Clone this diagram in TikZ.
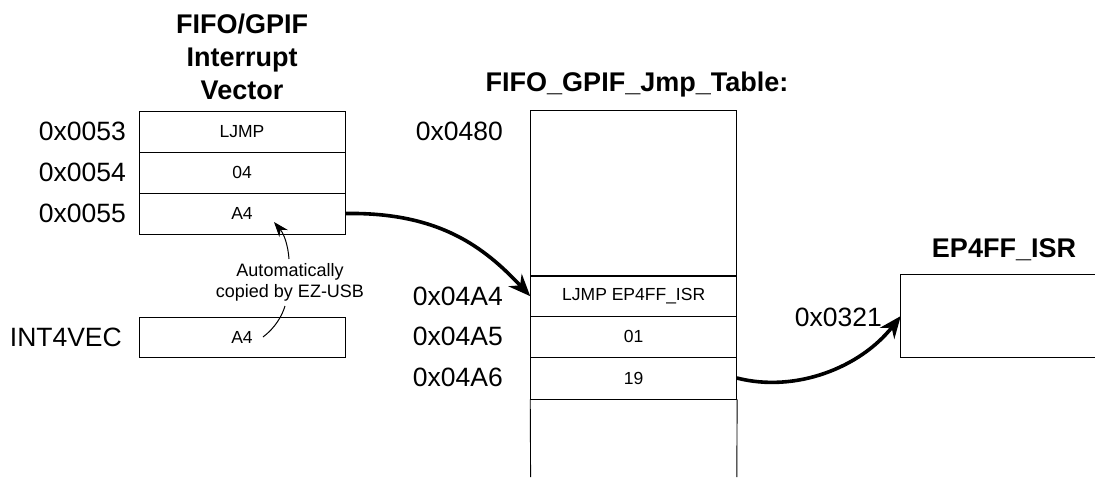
\documentclass[tikz,border=0pt]{standalone}
\usepackage{fontspec}
\setmainfont{Liberation Sans}
\usetikzlibrary{arrows.meta}
\begin{document}
\begin{tikzpicture}[x=1pt,y=-1pt,
  cell/.style={draw,line width=0.9pt,minimum width=206pt,minimum height=41pt,inner sep=0pt,font=\fontsize{17.5}{20}\selectfont},
  addr/.style={anchor=east,inner sep=0pt,font=\fontsize{26.5}{30}\selectfont},
  ttl/.style={align=center,inner sep=0pt,font=\fontsize{27}{33}\selectfont\bfseries},
  big/.style={line width=3.6pt,-{Stealth[length=22pt,width=18pt]}},
  thin/.style={line width=1pt,-{Stealth[length=15pt,width=11pt]}}]
\useasboundingbox (0,0) rectangle (1095,477);
% left vector table
\node[ttl] (t1) at (242,57) {FIFO/GPIF\\Interrupt\\Vector};
\node[cell] (c53) at (242,131.5) {LJMP};
\node[cell] (c54) at (242,172.5) {04};
\node[cell] (c55) at (242,213.5) {A4};
\node[addr] (a53) at (126,131) {0x0053};
\node[addr] (a54) at (126,172) {0x0054};
\node[addr] (a55) at (126,213) {0x0055};
\node[cell,minimum height=40pt] (int) at (242,337) {A4};
\node[addr] (aint) at (122,337) {INT4VEC};
% annotation
\node[align=center,inner sep=0pt,font=\fontsize{18}{21}\selectfont] (note) at (290,282) {Automatically\\copied by EZ-USB};
\coordinate (n1) at (263,337);
\coordinate (n2) at (285,306);
\coordinate (n3) at (289,259);
\coordinate (n4) at (274,222);
\draw[line width=1pt] (n1) .. controls (275,328) and (282,316) .. (n2);
\draw[thin] (n3) .. controls (288,245) and (284,234) .. (n4);
% jump table
\node[ttl] (t2) at (637,85) {FIFO\_GPIF\_Jmp\_Table:};
\node[cell,minimum height=165.3pt] (top) at (633.7,193.4) {};
\node[cell] (j4) at (633.7,296.2) {LJMP EP4FF\_ISR};
\node[cell] (j5) at (633.7,336.8) {01};
\node[cell,minimum height=41.7pt] (j6) at (633.7,378.1) {19};
\coordinate (b1) at (530.6,477);
\coordinate (b2) at (736.8,477);
\draw[line width=0.9pt] (j6.south west) -- (b1);
\draw[line width=0.9pt] (j6.south east) -- (b2);
\node[addr] (a80) at (503,131.5) {0x0480};
\node[addr] (aa4) at (503,296) {0x04A4};
\node[addr] (aa5) at (503,336.5) {0x04A5};
\node[addr] (aa6) at (503,377) {0x04A6};
% ISR
\node[ttl] (t3) at (1004,250) {EP4FF\_ISR};
\node[minimum width=194pt,minimum height=82pt,inner sep=0pt] (ep) at (998,316) {};
\draw[line width=0.9pt] (ep.north east) -- (ep.north west) -- (ep.south west) -- (ep.south east);
\node[addr] (a321) at (882,317) {0x0321};
% arrows
\draw[big] (c55.east) .. controls (440,212) and (485,248) .. (j4.west);
\coordinate (s2) at (736.8,378);
\draw[big] (s2) .. controls (795,393) and (860,368) .. (ep.west);
\end{tikzpicture}
\end{document}
